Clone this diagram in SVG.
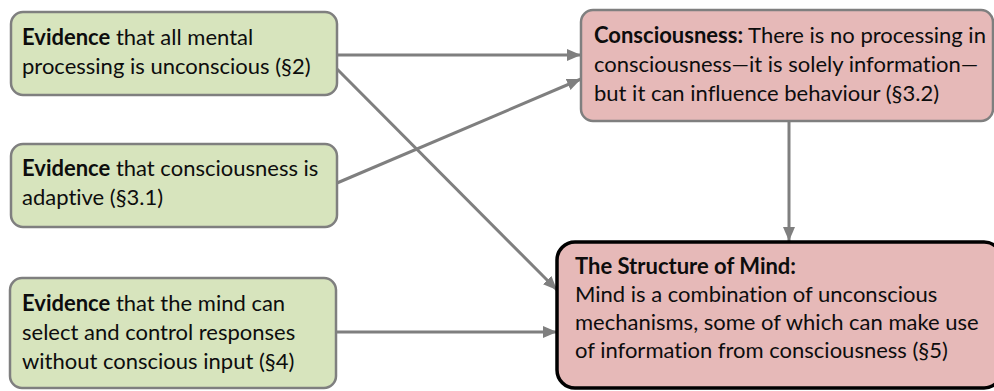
<svg xmlns="http://www.w3.org/2000/svg" width="994" height="391" viewBox="0 0 994 391">
<defs>
<marker id="ah" markerWidth="14" markerHeight="12" refX="14" refY="6" orient="auto" markerUnits="userSpaceOnUse">
<path d="M0,0 L14,6 L0,12 Z" fill="#7f7f7f"/>
</marker>
<style>
.ev{fill:#d7e4bd;stroke:#7f7f7f;stroke-width:2.5}
.pk{fill:#e6b9b8;stroke:#7f7f7f;stroke-width:2.5}
.pkb{fill:#e6b9b8;stroke:#000;stroke-width:3.5}
text{font-family:Lato,"Liberation Sans",sans-serif;font-size:22px;fill:#0d0d0d;font-variant-ligatures:none;font-feature-settings:"liga" 0,"clig" 0}
.b{font-weight:bold}
.c{stroke:#7f7f7f;stroke-width:3;fill:none;marker-end:url(#ah)}
</style>
</defs>
<g id="connectors">
<line class="c" x1="337" y1="55" x2="581" y2="55"/>
<line class="c" x1="337" y1="69" x2="557" y2="290"/>
<line class="c" x1="337" y1="183" x2="581" y2="79"/>
<line class="c" x1="336" y1="332" x2="557" y2="332"/>
<line class="c" x1="789" y1="121" x2="789" y2="241"/>
</g>
<g id="n1">
<rect class="ev" x="11" y="12" width="326" height="83" rx="12"/>
<text x="22" y="45"><tspan class="b">Evidence</tspan> that all mental</text>
<text x="22" y="74">processing is unconscious (§2)</text>
</g>
<g id="n2">
<rect class="ev" x="11" y="144" width="326" height="83" rx="12"/>
<text x="22" y="176"><tspan class="b">Evidence</tspan> that consciousness is</text>
<text x="22" y="205">adaptive (§3.1)</text>
</g>
<g id="n3">
<rect class="ev" x="10" y="278" width="326" height="110" rx="12"/>
<text x="22" y="311"><tspan class="b">Evidence</tspan> that the mind can</text>
<text x="22" y="340">select and control responses</text>
<text x="22" y="369">without conscious input (§4)</text>
</g>
<g id="n4">
<rect class="pk" x="581" y="10" width="412" height="111" rx="12"/>
<text x="594" y="43"><tspan class="b">Consciousness:</tspan> There is no processing in</text>
<text x="594" y="72">consciousness—it is solely information—</text>
<text x="594" y="101">but it can influence behaviour (§3.2)</text>
</g>
<g id="n5">
<rect class="pkb" x="557" y="242" width="445" height="146" rx="18"/>
<text x="575" y="274" class="b">The Structure of Mind:</text>
<text x="575" y="302">Mind is a combination of unconscious</text>
<text x="575" y="330">mechanisms, some of which can make use</text>
<text x="575" y="358">of information from consciousness (§5)</text>
</g>
</svg>
